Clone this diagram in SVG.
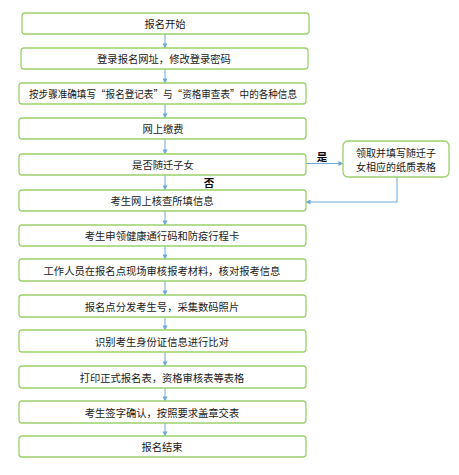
<svg xmlns="http://www.w3.org/2000/svg" width="459" height="475" viewBox="0 0 459 475">
<defs>
<marker id="ah" viewBox="0 0 6 6" refX="5.5" refY="3" markerWidth="5" markerHeight="5" orient="auto" markerUnits="userSpaceOnUse">
<path d="M0,0 L6,3 L0,6 z" fill="#6fa8dc"/>
</marker>
<style>
.box{fill:#ffffff;stroke:#9bd16b;stroke-width:1.3}
.t{font-family:"Noto Sans CJK SC","Noto Sans",sans-serif;font-size:10.3px;fill:#1a1a1a;text-anchor:middle;dominant-baseline:central}
.s{font-size:10px}
.lb{font-family:"Noto Sans CJK SC","Noto Sans",sans-serif;font-size:10.5px;font-weight:bold;fill:#000;text-anchor:middle;dominant-baseline:central}
.c{stroke:#6fa8dc;stroke-width:1;fill:none;marker-end:url(#ah)}
</style>
</defs>
<rect width="459" height="475" fill="#ffffff"/>
<g id="connectors">
<line class="c" x1="165" y1="34" x2="165" y2="48"/>
<line class="c" x1="165" y1="69" x2="165" y2="83"/>
<line class="c" x1="165" y1="104" x2="165" y2="118"/>
<line class="c" x1="165" y1="139" x2="165" y2="154"/>
<line class="c" x1="165" y1="175" x2="165" y2="190"/>
<line class="c" x1="165" y1="211" x2="165" y2="225"/>
<line class="c" x1="165" y1="246" x2="165" y2="259"/>
<line class="c" x1="165" y1="281" x2="165" y2="295"/>
<line class="c" x1="165" y1="317" x2="165" y2="330"/>
<line class="c" x1="165" y1="352" x2="165" y2="366"/>
<line class="c" x1="165" y1="388" x2="165" y2="401"/>
<line class="c" x1="165" y1="423" x2="165" y2="436"/>
<line class="c" x1="306" y1="163.5" x2="343" y2="163.5"/>
<polyline class="c" points="397,177 397,202 306,202"/>
<text class="lb" x="322" y="156">是</text>
<text class="lb" x="209" y="182">否</text>
</g>
<g id="n1"><rect class="box" x="22" y="13" width="287" height="21" rx="3"/><text class="t" x="165" y="23.5">报名开始</text></g>
<g id="n2"><rect class="box" x="21" y="48" width="287" height="21" rx="3"/><text class="t" x="164" y="58.5">登录报名网址，修改登录密码</text></g>
<g id="n3"><rect class="box" x="19" y="83" width="287" height="21" rx="3"/><text class="t" x="163" y="93.5" textLength="268" lengthAdjust="spacingAndGlyphs">按步骤准确填写“报名登记表”与“资格审查表”中的各种信息</text></g>
<g id="n4"><rect class="box" x="19" y="118" width="287" height="21" rx="3"/><text class="t" x="163" y="128.5">网上缴费</text></g>
<g id="n5"><rect class="box" x="19" y="154" width="287" height="21" rx="3"/><text class="t" x="163" y="164.5">是否随迁子女</text></g>
<g id="n5b"><rect class="box" x="343" y="141" width="106" height="36" rx="5"/><text class="t s" x="396" y="152.5">领取并填写随迁子</text><text class="t s" x="396" y="166">女相应的纸质表格</text></g>
<g id="n6"><rect class="box" x="19" y="190" width="287" height="21" rx="3"/><text class="t" x="162" y="200.5">考生网上核查所填信息</text></g>
<g id="n7"><rect class="box" x="19" y="225" width="287" height="21" rx="3"/><text class="t" x="162" y="235.5">考生申领健康通行码和防疫行程卡</text></g>
<g id="n8"><rect class="box" x="19" y="259" width="287" height="22" rx="3"/><text class="t" x="162" y="270">工作人员在报名点现场审核报考材料，核对报考信息</text></g>
<g id="n9"><rect class="box" x="19" y="295" width="287" height="22" rx="3"/><text class="t" x="162" y="306">报名点分发考生号，采集数码照片</text></g>
<g id="n10"><rect class="box" x="19" y="330" width="287" height="22" rx="3"/><text class="t" x="162" y="341">识别考生身份证信息进行比对</text></g>
<g id="n11"><rect class="box" x="19" y="366" width="287" height="22" rx="3"/><text class="t" x="162" y="377">打印正式报名表，资格审核表等表格</text></g>
<g id="n12"><rect class="box" x="19" y="401" width="287" height="22" rx="3"/><text class="t" x="162" y="412">考生签字确认，按照要求盖章交表</text></g>
<g id="n13"><rect class="box" x="19" y="436" width="287" height="21" rx="3"/><text class="t" x="162" y="446.5">报名结束</text></g>
</svg>
